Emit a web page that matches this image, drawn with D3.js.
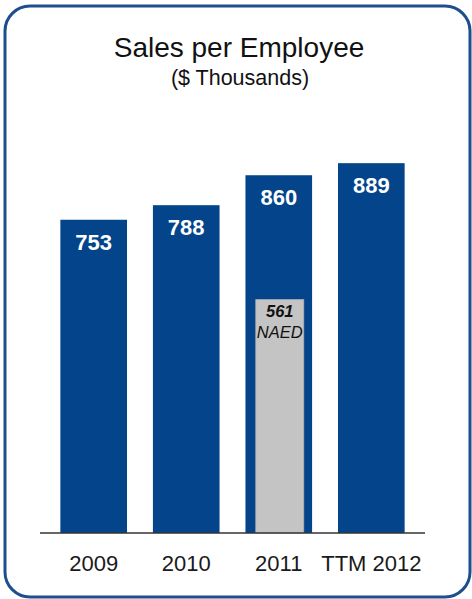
<!DOCTYPE html>
<html>
<head>
<meta charset="utf-8">
<script src="https://cdn.jsdelivr.net/npm/d3@7"></script>
<style>
  html, body { margin: 0; padding: 0; background: #ffffff; }
  svg { display: block; font-family: "Liberation Sans", Arial, sans-serif; }
</style>
</head>
<body>
<svg id="chart" width="472" height="599"></svg>
<script>
const categories = ["2009", "2010", "2011", "TTM 2012"];
const salesValues = [753, 788, 860, 889];
const naedCategory = "2011";
const naedValue = 561;
const naedLabel = "NAED";
const titleText = "Sales per Employee";
const subtitleText = "($ Thousands)";

const svg = d3.select("#chart");

// Rounded border
svg.append("rect")
  .attr("x", 5).attr("y", 6)
  .attr("width", 465).attr("height", 591)
  .attr("rx", 25).attr("ry", 25)
  .attr("fill", "#ffffff")
  .attr("stroke", "#1d4f8e")
  .attr("stroke-width", 3);

// Title
svg.append("text")
  .attr("x", 239).attr("y", 57)
  .attr("text-anchor", "middle")
  .attr("font-size", 28)
  .attr("fill", "#111")
  .text(titleText);
svg.append("text")
  .attr("x", 240).attr("y", 85)
  .attr("text-anchor", "middle")
  .attr("font-size", 21.5)
  .attr("fill", "#111")
  .text(subtitleText);

const baseY = 533;
const x = d3.scaleBand()
  .domain(categories)
  .range([40, 425])
  .paddingInner(0.28)
  .paddingOuter(0.22);

const y = d3.scaleLinear()
  .domain([0, 1000])
  .range([baseY, baseY - 416]);

const data = categories.map((c, i) => ({ cat: c, value: salesValues[i] }));

// Bars
svg.selectAll("rect.bar")
  .data(data)
  .join("rect")
  .attr("class", "bar")
  .attr("x", d => x(d.cat))
  .attr("y", d => y(d.value))
  .attr("width", x.bandwidth())
  .attr("height", d => baseY - y(d.value))
  .attr("fill", "#03448a");

// Value labels
svg.selectAll("text.val")
  .data(data)
  .join("text")
  .attr("class", "val")
  .attr("x", d => x(d.cat) + x.bandwidth() / 2)
  .attr("y", d => y(d.value) + 30)
  .attr("text-anchor", "middle")
  .attr("font-size", 22)
  .attr("font-weight", "bold")
  .attr("fill", "#ffffff")
  .text(d => d.value);

// NAED inner bar
const innerW = x.bandwidth() * 0.72;
const nx = x(naedCategory) + (x.bandwidth() - innerW) / 2 + 1;
svg.append("rect")
  .attr("x", nx)
  .attr("y", y(naedValue))
  .attr("width", innerW)
  .attr("height", baseY - y(naedValue))
  .attr("fill", "#c4c4c4")
  .attr("stroke", "#b0b0b0")
  .attr("stroke-width", 0.8);
svg.append("text")
  .attr("x", nx + innerW / 2)
  .attr("y", y(naedValue) + 17)
  .attr("text-anchor", "middle")
  .attr("font-size", 16.5)
  .attr("font-weight", "bold")
  .attr("font-style", "italic")
  .attr("fill", "#111")
  .text(naedValue);
svg.append("text")
  .attr("x", nx + innerW / 2)
  .attr("y", y(naedValue) + 38)
  .attr("text-anchor", "middle")
  .attr("font-size", 16.5)
  .attr("font-style", "italic")
  .attr("fill", "#111")
  .text(naedLabel);

// Axis
const axis = svg.append("g")
  .attr("transform", `translate(0,${baseY})`)
  .call(d3.axisBottom(x).tickSize(0).tickPadding(22));
axis.select(".domain")
  .attr("d", `M40,0H425`)
  .attr("stroke", "#333")
  .attr("stroke-width", 1.5);
axis.selectAll(".tick text")
  .attr("font-size", 22)
  .attr("font-family", "Liberation Sans, Arial, sans-serif")
  .attr("fill", "#1a1a1a");
</script>
</body>
</html>
